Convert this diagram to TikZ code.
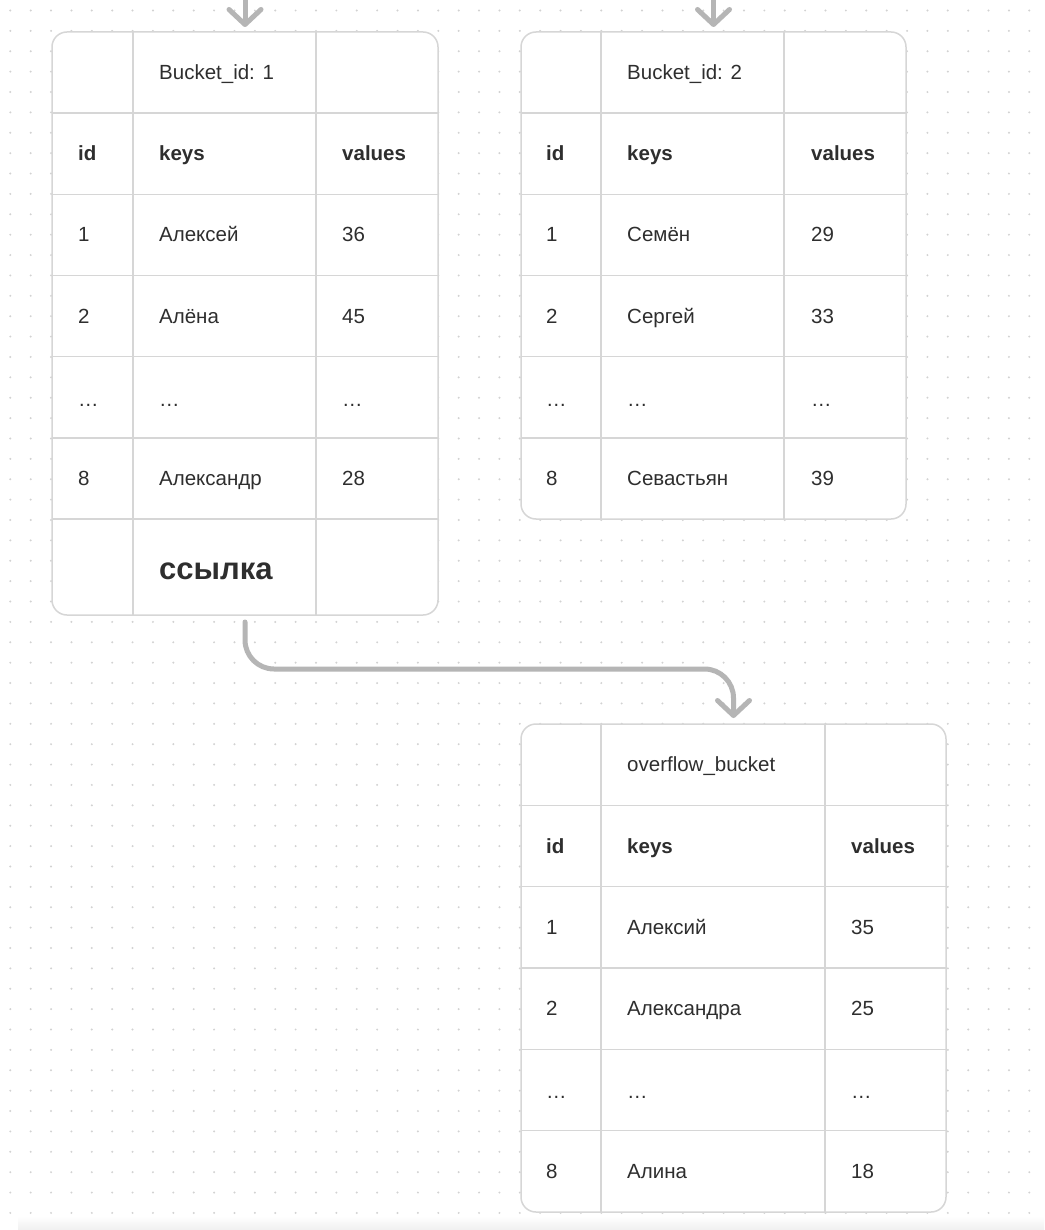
\documentclass[tikz,border=0pt]{standalone}
\usepackage{fontspec}
\setmainfont{Liberation Sans}
\usetikzlibrary{arrows.meta,calc}
\definecolor{txt}{HTML}{2E2E2E}
\definecolor{dotc}{HTML}{D2D2D2}
\definecolor{rulec}{HTML}{D6D6D6}
\definecolor{connc}{HTML}{B5B5B5}
\tikzset{
 tbl/.style={fill=white, rounded corners=15pt, inner sep=0pt, outer sep=0pt},
 border/.style={draw=rulec, line width=1.5pt, rounded corners=15pt},
 rl/.style={draw=rulec, line width=1.5pt},
 cell/.style={anchor=base west, inner sep=0pt, text=txt, font=\fontsize{20.5}{24}\selectfont},
 hcell/.style={cell, font=\fontsize{20.5}{24}\selectfont\bfseries},
 link/.style={cell, font=\fontsize{31}{36}\selectfont\bfseries},
 conn/.style={draw=connc, line width=5pt, line cap=round, line join=round,
   -{Straight Barb[length=15pt,width=32pt,round]}}
}
\begin{document}
\begin{tikzpicture}[x=1pt,y=-1pt]
\useasboundingbox (0,0) rectangle (1044,1230);
\fill[white] (0,0) rectangle (1044,1230);
% dot grid
\foreach \i in {0,...,51}{
  \foreach \j in {0,...,59}{
    \fill[dotc] ({10.3+20.38*\i},{10.5+20.38*\j}) circle (1.1pt);
  }
}
\shade[top color=white, bottom color=black!6] (18,1216) rectangle (1044,1230);

% ---------- table 1 ----------
\node[tbl, minimum width=386pt, minimum height=583pt] (t1) at (245,323.5) {};
\foreach \y in {113.2,194.3,275.5,356.7,437.8,519}{\draw[rl] (52,\y) -- (438,\y);}
\draw[rl] (133,32) -- (133,615);
\draw[rl] (316,32) -- (316,615);
\draw[border] (t1.north west) rectangle (t1.south east);
\node[cell] (t1title) at (159,79.6) {Bucket\_id: 1};
\node[hcell] (t1hid) at (78,160.8) {id};
\node[hcell] (t1hk) at (159,160.8) {keys};
\node[hcell] (t1hv) at (342,160.8) {values};
\node[cell] (t1a1) at (78,241.9) {1};
\node[cell] (t1a2) at (159,241.9) {Алексей};
\node[cell] (t1a3) at (342,241.9) {36};
\node[cell] (t1b1) at (78,323.1) {2};
\node[cell] (t1b2) at (159,323.1) {Алёна};
\node[cell] (t1b3) at (342,323.1) {45};
\node[cell] (t1c1) at (78,406) {…};
\node[cell] (t1c2) at (159,406) {…};
\node[cell] (t1c3) at (342,406) {…};
\node[cell] (t1d1) at (78,485.4) {8};
\node[cell] (t1d2) at (159,485.4) {Александр};
\node[cell] (t1d3) at (342,485.4) {28};
\node[link] (t1link) at (159,579) {ссылка};

% ---------- table 2 ----------
\node[tbl, minimum width=385pt, minimum height=487pt] (t2) at (713.5,275.5) {};
\foreach \y in {113.2,194.3,275.5,356.7,437.8}{\draw[rl] (521,\y) -- (906,\y);}
\draw[rl] (601,32) -- (601,519);
\draw[rl] (784,32) -- (784,519);
\draw[border] (t2.north west) rectangle (t2.south east);
\node[cell] (t2title) at (627,79.6) {Bucket\_id: 2};
\node[hcell] (t2hid) at (546,160.8) {id};
\node[hcell] (t2hk) at (627,160.8) {keys};
\node[hcell] (t2hv) at (811,160.8) {values};
\node[cell] (t2a1) at (546,241.9) {1};
\node[cell] (t2a2) at (627,241.9) {Семён};
\node[cell] (t2a3) at (811,241.9) {29};
\node[cell] (t2b1) at (546,323.1) {2};
\node[cell] (t2b2) at (627,323.1) {Сергей};
\node[cell] (t2b3) at (811,323.1) {33};
\node[cell] (t2c1) at (546,406) {…};
\node[cell] (t2c2) at (627,406) {…};
\node[cell] (t2c3) at (811,406) {…};
\node[cell] (t2d1) at (546,485.4) {8};
\node[cell] (t2d2) at (627,485.4) {Севастьян};
\node[cell] (t2d3) at (811,485.4) {39};

% ---------- table 3 ----------
\node[tbl, minimum width=425pt, minimum height=488pt] (t3) at (733.5,968) {};
\foreach \y in {805.3,886.7,968,1049.3,1130.7}{\draw[rl] (521,\y) -- (946,\y);}
\draw[rl] (601,724) -- (601,1212);
\draw[rl] (825,724) -- (825,1212);
\draw[border] (t3.north west) rectangle (t3.south east);
\node[cell] (t3title) at (627,771.7) {overflow\_bucket};
\node[hcell] (t3hid) at (546,853) {id};
\node[hcell] (t3hk) at (627,853) {keys};
\node[hcell] (t3hv) at (851,853) {values};
\node[cell] (t3a1) at (546,934.3) {1};
\node[cell] (t3a2) at (627,934.3) {Алексий};
\node[cell] (t3a3) at (851,934.3) {35};
\node[cell] (t3b1) at (546,1015.7) {2};
\node[cell] (t3b2) at (627,1015.7) {Александра};
\node[cell] (t3b3) at (851,1015.7) {25};
\node[cell] (t3c1) at (546,1098.7) {…};
\node[cell] (t3c2) at (627,1098.7) {…};
\node[cell] (t3c3) at (851,1098.7) {…};
\node[cell] (t3d1) at (546,1178.3) {8};
\node[cell] (t3d2) at (627,1178.3) {Алина};
\node[cell] (t3d3) at (851,1178.3) {18};

% ---------- connectors ----------
\coordinate (in1) at ($(t1.north)+(0,-40)$);
\coordinate (in2) at ($(t2.north)+(0,-40)$);
\draw[conn] (in1) -- ($(t1.north)+(0,-5)$);
\draw[conn] (in2) -- ($(t2.north)+(0,-5)$);
\draw[conn, rounded corners=29pt] ($(t1.south)+(0,7)$) -- ++(0,47) -| ($(t3.north)+(0,-6)$);
\end{tikzpicture}
\end{document}
